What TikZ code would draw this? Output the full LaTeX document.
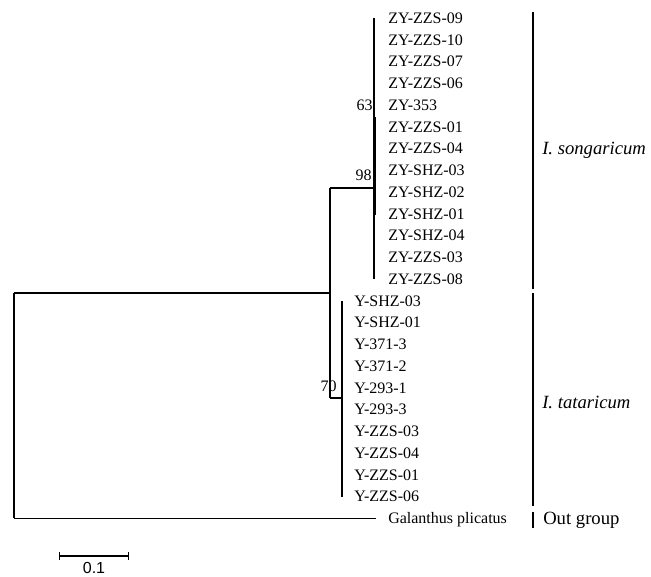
\documentclass[tikz,border=0pt]{standalone}
\usepackage{fontspec}
\setmainfont{Liberation Serif}
\setsansfont{Liberation Sans}
\usetikzlibrary{arrows.meta}
\tikzset{
  branch/.style={line width=1.1pt},
  leaf/.style={anchor=west, inner sep=0pt, text height=8pt, text depth=0pt, font=\fontsize{12}{14}\selectfont},
  boot/.style={anchor=east, inner sep=0pt, text height=8pt, text depth=0pt, font=\fontsize{12}{14}\selectfont},
  group/.style={anchor=west, inner sep=0pt, font=\fontsize{14}{16}\selectfont},
  groupbar/.style={line width=1.4pt}
}
\begin{document}
\begin{tikzpicture}[x=0.75pt,y=-0.75pt]
\useasboundingbox (0,0) rectangle (651,576);
% leaves, I. songaricum clade
\node[leaf] (z1) at (388,18) {ZY-ZZS-09};
\node[leaf] (z2) at (388,39.75) {ZY-ZZS-10};
\node[leaf] (z3) at (388,61.5) {ZY-ZZS-07};
\node[leaf] (z4) at (388,83.25) {ZY-ZZS-06};
\node[leaf] (z5) at (388,105) {ZY-353};
\node[leaf] (z6) at (388,126.75) {ZY-ZZS-01};
\node[leaf] (z7) at (388,148.5) {ZY-ZZS-04};
\node[leaf] (z8) at (388,170.25) {ZY-SHZ-03};
\node[leaf] (z9) at (388,192) {ZY-SHZ-02};
\node[leaf] (z10) at (388,213.75) {ZY-SHZ-01};
\node[leaf] (z11) at (388,235.5) {ZY-SHZ-04};
\node[leaf] (z12) at (388,257.25) {ZY-ZZS-03};
\node[leaf] (z13) at (388,279) {ZY-ZZS-08};
% leaves, I. tataricum clade
\node[leaf] (y1) at (354,300.75) {Y-SHZ-03};
\node[leaf] (y2) at (354,322.5) {Y-SHZ-01};
\node[leaf] (y3) at (354,344.25) {Y-371-3};
\node[leaf] (y4) at (354,366) {Y-371-2};
\node[leaf] (y5) at (354,387.75) {Y-293-1};
\node[leaf] (y6) at (354,409.5) {Y-293-3};
\node[leaf] (y7) at (354,431.25) {Y-ZZS-03};
\node[leaf] (y8) at (354,453) {Y-ZZS-04};
\node[leaf] (y9) at (354,474.75) {Y-ZZS-01};
\node[leaf] (y10) at (354,496.5) {Y-ZZS-06};
% out group
\node[leaf] (gp) at (388,518.25) {Galanthus plicatus};

% branch points
\coordinate (root1) at (14,293);
\coordinate (root2) at (14,518.25);
\coordinate (in0) at (330,293);
\coordinate (in1) at (330,188);
\coordinate (in2) at (330,398);
\coordinate (so0) at (374,188);
\coordinate (so1) at (374,18);
\coordinate (so2) at (374,279);
\coordinate (sub1) at (375.5,117);
\coordinate (sub2) at (375.5,215);
\coordinate (ta0) at (342,398);
\coordinate (ta1) at (342,300.75);
\coordinate (ta2) at (342,496.5);
\coordinate (gp0) at (376,518.25);

\draw[branch] (root1) -- (root2);
\draw[branch] (root1) -- (in0);
\draw[branch] (in1) -- (in2);
\draw[branch] (in1) -- (so0);
\draw[branch] (so1) -- (so2);
\draw[branch] (sub1) -- (sub2);
\draw[branch] (in2) -- (ta0);
\draw[branch] (ta1) -- (ta2);
\draw[branch] (root2) -- (gp0);

% bootstrap values
\node[boot] (b63) at (373,105) {63};
\node[boot] (b98) at (372,175) {98};
\node[boot] (b70) at (337,386) {70};

% groups
\coordinate (g1a) at (533,12);
\coordinate (g1b) at (533,289);
\coordinate (g2a) at (533,293);
\coordinate (g2b) at (533,506);
\coordinate (g3a) at (533,512);
\coordinate (g3b) at (533,528);
\draw[groupbar] (g1a) -- (g1b);
\draw[groupbar] (g2a) -- (g2b);
\draw[groupbar] (g3a) -- (g3b);
\node[group] (song) at (542,150) {\itshape I. songaricum};
\node[group] (tata) at (542,402) {\itshape I. tataricum};
\node[group] (outg) at (543,520) {Out group};

% scale bar
\coordinate (sc1) at (59,556);
\coordinate (sc2) at (129,556);
\draw[line width=1.1pt, {Bar[width=6pt]}-{Bar[width=6pt]}] (sc1) -- (sc2);
\node[font=\sffamily\fontsize{12}{14}\selectfont, inner sep=0pt] (scl) at (94,568) {0.1};
\end{tikzpicture}
\end{document}
